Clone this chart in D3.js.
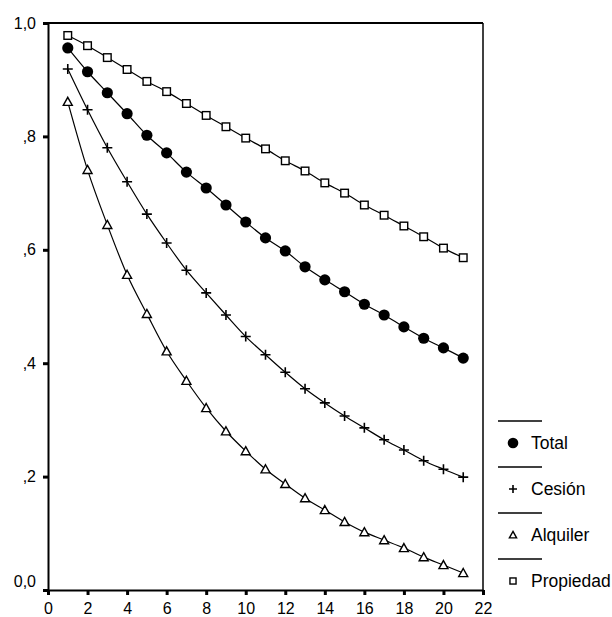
<!DOCTYPE html>
<html>
<head>
<meta charset="utf-8">
<script src="https://cdn.jsdelivr.net/npm/d3@7"></script>
<style>
  body { margin: 0; background: #fff; }
  svg { font-family: "Liberation Sans", Arial, sans-serif; }
</style>
</head>
<body>
<div id="chart"></div>
<script>
// x values (years) and the four series
var years = d3.range(1, 22);
var total = [0.956, 0.914, 0.877, 0.840, 0.802, 0.771, 0.737, 0.709, 0.679, 0.649, 0.621,
             0.598, 0.570, 0.547, 0.526, 0.504, 0.485, 0.464, 0.444, 0.427, 0.409];
var cesion = [0.919, 0.847, 0.780, 0.720, 0.663, 0.612, 0.564, 0.524, 0.485, 0.447, 0.415,
              0.384, 0.355, 0.330, 0.307, 0.286, 0.265, 0.247, 0.228, 0.213, 0.199];
var alquiler = [0.861, 0.741, 0.644, 0.556, 0.487, 0.421, 0.369, 0.321, 0.280, 0.245, 0.213,
                0.187, 0.162, 0.141, 0.120, 0.102, 0.088, 0.074, 0.058, 0.044, 0.030];
var propiedad = [0.978, 0.960, 0.939, 0.918, 0.897, 0.879, 0.858, 0.837, 0.817, 0.797, 0.778,
                 0.757, 0.739, 0.718, 0.700, 0.679, 0.661, 0.642, 0.623, 0.603, 0.586];
var seriesNames = ["Total", "Cesión", "Alquiler", "Propiedad"];
var xTicks = d3.range(0, 23, 2);
var yTicks = [0, 0.2, 0.4, 0.6, 0.8, 1.0];

var width = 612, height = 617;

var svg = d3.select("#chart").append("svg")
    .attr("width", width)
    .attr("height", height);

var x = d3.scaleLinear().domain([0, 22]).range([48, 483]);
var y = d3.scaleLinear().domain([0, 1]).range([590, 23]);

function fmt(v) {
    if (v === 0) return "0,0";
    if (v === 1) return "1,0";
    return "," + Math.round(v * 10);
}

// frame (top and right)
svg.append("line")
    .attr("x1", x(0)).attr("x2", x(22)).attr("y1", y(1)).attr("y2", y(1))
    .style("stroke", "#000").style("stroke-width", 2);
svg.append("line")
    .attr("x1", x(22)).attr("x2", x(22)).attr("y1", y(1)).attr("y2", y(0))
    .style("stroke", "#000").style("stroke-width", 1.5);

// axes
var yAxis = svg.append("g")
    .attr("transform", "translate(" + x(0) + ",0)")
    .call(d3.axisLeft(y).tickValues(yTicks).tickFormat(fmt).tickSizeOuter(0).tickSizeInner(5).tickPadding(5));
var xAxis = svg.append("g")
    .attr("transform", "translate(0," + y(0) + ")")
    .call(d3.axisBottom(x).tickValues(xTicks).tickFormat(d3.format("d")).tickSizeOuter(0).tickSizeInner(5).tickPadding(8));

[xAxis, yAxis].forEach(function (ax) {
    ax.select(".domain").style("stroke", "#000").style("stroke-width", 2);
    ax.selectAll(".tick line").style("stroke", "#000").style("stroke-width", 3);
    ax.selectAll(".tick text").style("font-size", "16px").style("fill", "#000");
});
yAxis.selectAll(".tick text").filter(function (d) { return d === 0; }).attr("dy", "-0.2em");
yAxis.selectAll(".tick text").attr("x", -12);

var line = d3.line()
    .x(function (d, i) { return x(years[i]); })
    .y(function (d) { return y(d); })
    .curve(d3.curveMonotoneX);

var data = [total, cesion, alquiler, propiedad];

data.forEach(function (s) {
    svg.append("path")
        .attr("d", line(s))
        .style("fill", "none")
        .style("stroke", "#000")
        .style("stroke-width", 1.2);
});

// marker drawing
function drawMarker(g, type, cx, cy, s) {
    if (type === 0) {
        g.append("circle").attr("cx", cx).attr("cy", cy).attr("r", 5.6 * s).style("fill", "#000");
    } else if (type === 1) {
        var h = 5 * s;
        g.append("path")
            .attr("d", "M" + (cx - h) + "," + cy + "H" + (cx + h) + "M" + cx + "," + (cy - h) + "V" + (cy + h))
            .style("stroke", "#000").style("stroke-width", 1.6);
    } else if (type === 2) {
        var w = 4.5 * s, t = 4.5 * s;
        g.append("path")
            .attr("d", "M" + cx + "," + (cy - t) + "L" + (cx + w) + "," + (cy + t * 0.8) + "L" + (cx - w) + "," + (cy + t * 0.8) + "Z")
            .style("fill", "#fff").style("stroke", "#000").style("stroke-width", 1.4);
    } else {
        var a = 3.8 * s;
        g.append("rect")
            .attr("x", cx - a).attr("y", cy - a).attr("width", 2 * a).attr("height", 2 * a)
            .style("fill", "#fff").style("stroke", "#000").style("stroke-width", 1.4);
    }
}

var marks = svg.append("g");
data.forEach(function (s, k) {
    s.forEach(function (v, i) {
        drawMarker(marks, k, x(years[i]), y(v), 1);
    });
});

// legend
var legend = svg.append("g");
var legTop = [421, 467, 513, 559];
seriesNames.forEach(function (name, k) {
    legend.append("line")
        .attr("x1", 498).attr("x2", 542)
        .attr("y1", legTop[k]).attr("y2", legTop[k])
        .style("stroke", "#000").style("stroke-width", 1.5);
    var cy = legTop[k] + 22;
    drawMarker(legend, k, 513, cy, k === 0 ? 0.95 : 0.8);
    legend.append("text")
        .attr("x", 531).attr("y", cy)
        .attr("dy", "0.36em")
        .style("font-size", "17.5px")
        .style("fill", "#000")
        .text(name);
});
</script>
</body>
</html>
